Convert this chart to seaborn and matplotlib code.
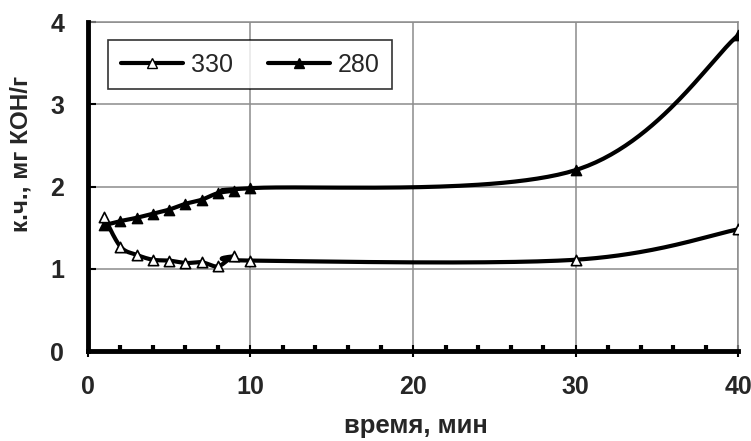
import numpy as np
import pandas as pd
import matplotlib
matplotlib.use("Agg")
import matplotlib.pyplot as plt
from matplotlib.ticker import MultipleLocator
from matplotlib.lines import Line2D
import seaborn as sns

# Acid number vs time for two temperatures
time_min = [1, 2, 3, 4, 5, 6, 7, 8, 9, 10, 30, 40]
acid_330 = [1.63, 1.27, 1.17, 1.11, 1.10, 1.07, 1.08, 1.03, 1.15, 1.10, 1.11, 1.48]
acid_280 = [1.53, 1.58, 1.62, 1.67, 1.72, 1.79, 1.84, 1.92, 1.95, 1.98, 2.20, 3.84]
series_labels = ["330", "280"]
x_ticks = [0, 10, 20, 30, 40]
y_ticks = [0, 1, 2, 3, 4]


def bezier_smooth(ax, x, y, n_seg=60):
    """Spreadsheet-style smoothed line: cubic Bezier segments whose control
    points use 1/6 of the neighbour chord, computed in display space."""
    pts = ax.transData.transform(np.column_stack([x, y]))
    out = []
    n = len(pts)
    t = np.linspace(0, 1, n_seg)[:, None]
    for i in range(n - 1):
        p0 = pts[i - 1] if i > 0 else pts[i]
        p1, p2 = pts[i], pts[i + 1]
        p3 = pts[i + 2] if i + 2 < n else pts[i + 1]
        c1 = p1 + (p2 - p0) / 6.0
        c2 = p2 - (p3 - p1) / 6.0
        seg = ((1 - t) ** 3 * p1 + 3 * (1 - t) ** 2 * t * c1
               + 3 * (1 - t) * t ** 2 * c2 + t ** 3 * p2)
        out.append(seg if i == 0 else seg[1:])
    disp = np.vstack(out)
    data = ax.transData.inverted().transform(disp)
    return data[:, 0], data[:, 1]


sns.set_theme(style="white")
plt.rcParams["font.family"] = ["Liberation Sans", "DejaVu Sans"]

fig = plt.figure(figsize=(7.51, 4.41), dpi=100)
ax = fig.add_axes([0.117, 0.204, 0.866, 0.746])
ax.set_xlim(0, 40)
ax.set_ylim(0, 4)

frames = []
for lab, vals in zip(series_labels, [acid_330, acid_280]):
    sx, sy = bezier_smooth(ax, time_min, vals)
    frames.append(pd.DataFrame({"t": sx, "v": sy, "s": lab}))
smooth = pd.concat(frames, ignore_index=True)
sns.lineplot(data=smooth, x="t", y="v", hue="s", units="s", estimator=None,
             palette=["black", "black"], linewidth=3, legend=False, ax=ax,
             zorder=3, sort=False)

pts = pd.DataFrame({"t": time_min, "a330": acid_330, "a280": acid_280})
sns.scatterplot(data=pts, x="t", y="a280", marker="^", s=55, color="black",
                edgecolor="black", linewidth=1, ax=ax, zorder=4)
sns.scatterplot(data=pts, x="t", y="a330", marker="^", s=55, color="white",
                edgecolor="black", linewidth=1.2, ax=ax, zorder=5)

ax.set_xlim(0, 40)
ax.set_ylim(0, 4)
ax.set_xticks(x_ticks)
ax.set_yticks(y_ticks)
ax.xaxis.set_minor_locator(MultipleLocator(2))
ax.grid(True, which="major", color="#8c8c8c", linewidth=1.1)
ax.set_axisbelow(True)

for side in ("top", "right"):
    ax.spines[side].set_color("#8c8c8c")
    ax.spines[side].set_linewidth(1.1)
for side in ("left", "bottom"):
    ax.spines[side].set_color("black")
    ax.spines[side].set_linewidth(3.5)
    ax.spines[side].set_zorder(6)

ax.tick_params(axis="x", which="major", direction="inout", length=8, width=1.5,
               color="black", pad=13, labelsize=18, bottom=True)
ax.tick_params(axis="x", which="minor", direction="in", length=4, width=3,
               color="black", bottom=True)
ax.tick_params(axis="y", which="major", direction="in", length=6, width=1.5,
               color="black", pad=17, labelsize=18, left=True)
for lab in ax.get_xticklabels() + ax.get_yticklabels():
    lab.set_fontweight("bold")

ax.set_xlabel("время, мин", fontsize=18.5, fontweight="bold")
ax.xaxis.set_label_coords(0.505, -0.19)
ax.set_ylabel("к.ч., мг КОН/г", fontsize=17.5, fontweight="bold")
ax.yaxis.set_label_coords(-0.085, 0.60)

handles = [
    Line2D([], [], color="black", linewidth=3, marker="^", markersize=7.5,
           markerfacecolor="white", markeredgecolor="black"),
    Line2D([], [], color="black", linewidth=3, marker="^", markersize=7.5,
           markerfacecolor="black", markeredgecolor="black"),
]
leg = ax.legend(handles, series_labels, ncol=2, loc="upper left",
                bbox_to_anchor=(0.031, 0.945), fontsize=18, frameon=True,
                fancybox=False, edgecolor="black", handlelength=2.5,
                columnspacing=1.4, handletextpad=0.3, borderpad=0.5,
                borderaxespad=0)
leg.get_frame().set_linewidth(1.2)
leg.set_zorder(10)

fig.savefig("out.png", dpi=100, facecolor="white")
